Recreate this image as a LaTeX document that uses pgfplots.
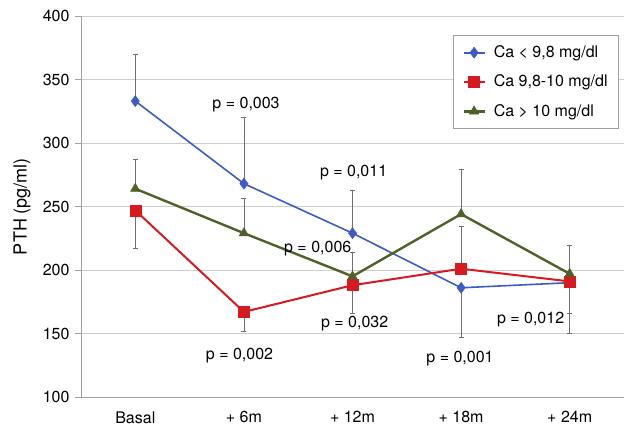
\documentclass[border=0pt]{standalone}
\usepackage{pgfplots}
\pgfplotsset{compat=1.18}
\usepackage{pgfplotstable}
\usepackage{fontspec}
\setmainfont{TeX Gyre Heros}
\definecolor{cblue}{RGB}{59,92,196}
\definecolor{cred}{RGB}{214,26,31}
\definecolor{cgreen}{RGB}{79,97,38}
\definecolor{gridgray}{RGB}{205,205,205}
\definecolor{axisgray}{RGB}{160,160,160}
\definecolor{errgray}{RGB}{110,110,110}
\newcommand{\fs}{\fontsize{16bp}{19bp}\selectfont}

\pgfplotstableread{
x y ep em
0 333 37 0
1 268 52 0
2 229 34 0
3 186 0 39
4 190 0 40
}\blue
\pgfplotstableread{
x y ep em
0 247 0 30
1 167 0 15
2 188 0 22
3 201 33 0
4 191 0 25
}\red
\pgfplotstableread{
x y ep em
0 264 23 0
1 229 27 0
2 195 19 0
3 244 35 0
4 197 22 0
}\green

\begin{document}
\fs
\begin{tikzpicture}
\begin{axis}[
  scale only axis, width=543bp, height=381bp,
  xmin=-0.5, xmax=4.5, ymin=100, ymax=400,
  ytick={100,150,...,400},
  xtick={0,1,2,3,4},
  xticklabels={Basal,+ 6m,+ 12m,+ 18m,+ 24m},
  x tick style={draw=none},
  extra x ticks={-0.5,0.5,1.5,2.5,3.5,4.5},
  extra x tick labels={},
  extra x tick style={tick style={draw=axisgray, line width=1pt}, major tick length=6bp, tick align=outside, grid=none},
  y tick style={draw=axisgray, line width=1pt},
  major tick length=6bp, tick align=outside,
  ymajorgrids, grid style={gridgray, line width=1pt},
  axis x line*=bottom, axis y line*=left,
  axis line style={-, draw=axisgray, line width=1pt},
  /pgf/number format/assume math mode=true,
  tick label style={font=\fs, text=black},
  xticklabel style={yshift=-3bp},
  ylabel={PTH (pg/ml)},
  every axis y label/.style={at={(axis description cs:-0.1087,0.5)}, rotate=90, anchor=center, font=\fontsize{18bp}{21bp}\selectfont},
  legend style={at={(0.991,0.95)}, anchor=north east, draw=axisgray, line width=1pt,
    font=\fs, row sep=11bp, inner xsep=9bp, inner ysep=8bp,
    cells={anchor=west},
    /tikz/every odd column/.append style={column sep=6bp}},
  legend cell align=left,
  legend image code/.code={\draw[mark repeat=2,mark phase=2] plot coordinates {(0bp,0bp) (10.5bp,0bp) (21bp,0bp)};},
  error bars/error bar style={draw=errgray, line width=0.8pt},
  error bars/error mark options={rotate=90, mark size=2.5bp, draw=errgray, line width=0.8pt},
]
% error bars first (behind lines)
\addplot[forget plot, draw=none, mark=none, error bars/.cd, y dir=both, y explicit]
  table[x=x, y=y, y error plus=ep, y error minus=em] {\blue};
\addplot[forget plot, draw=none, mark=none, error bars/.cd, y dir=both, y explicit]
  table[x=x, y=y, y error plus=ep, y error minus=em] {\red};
\addplot[forget plot, draw=none, mark=none, error bars/.cd, y dir=both, y explicit]
  table[x=x, y=y, y error plus=ep, y error minus=em] {\green};

\addplot[cblue, line width=1.6pt, mark=diamond*, mark size=5.5bp, mark options={fill=cblue, line width=0.5pt}]
  table[x=x, y=y] {\blue};
\addlegendentry{Ca < 9,8 mg/dl}
\addplot[cred, line width=2pt, mark=square*, mark size=5.5bp, mark options={fill=cred, line width=0.5pt}]
  table[x=x, y=y] {\red};
\addlegendentry{Ca 9,8-10 mg/dl}
\addplot[cgreen, line width=2.4pt, mark=triangle*, mark size=5.5bp, mark options={fill=cgreen, line width=0.5pt}]
  table[x=x, y=y] {\green};
\addlegendentry{Ca > 10 mg/dl}

\node[font=\fs] at (axis cs:1.02,330) {p = 0,003};
\node[font=\fs] at (axis cs:2.01,277) {p = 0,011};
\node[font=\fs] at (axis cs:1.68,216.5) {p = 0,006};
\node[font=\fs] at (axis cs:0.96,132.5) {p = 0,002};
\node[font=\fs] at (axis cs:2.02,157.5) {p = 0,032};
\node[font=\fs] at (axis cs:2.99,130) {p = 0,001};
\node[font=\fs] at (axis cs:3.64,161) {p = 0,012};
\end{axis}
\pgfresetboundingbox
\path[use as bounding box] ([xshift=-81bp,yshift=-30bp]current axis.south west) rectangle ([yshift=16bp]current axis.north east);
\end{tikzpicture}
\end{document}
